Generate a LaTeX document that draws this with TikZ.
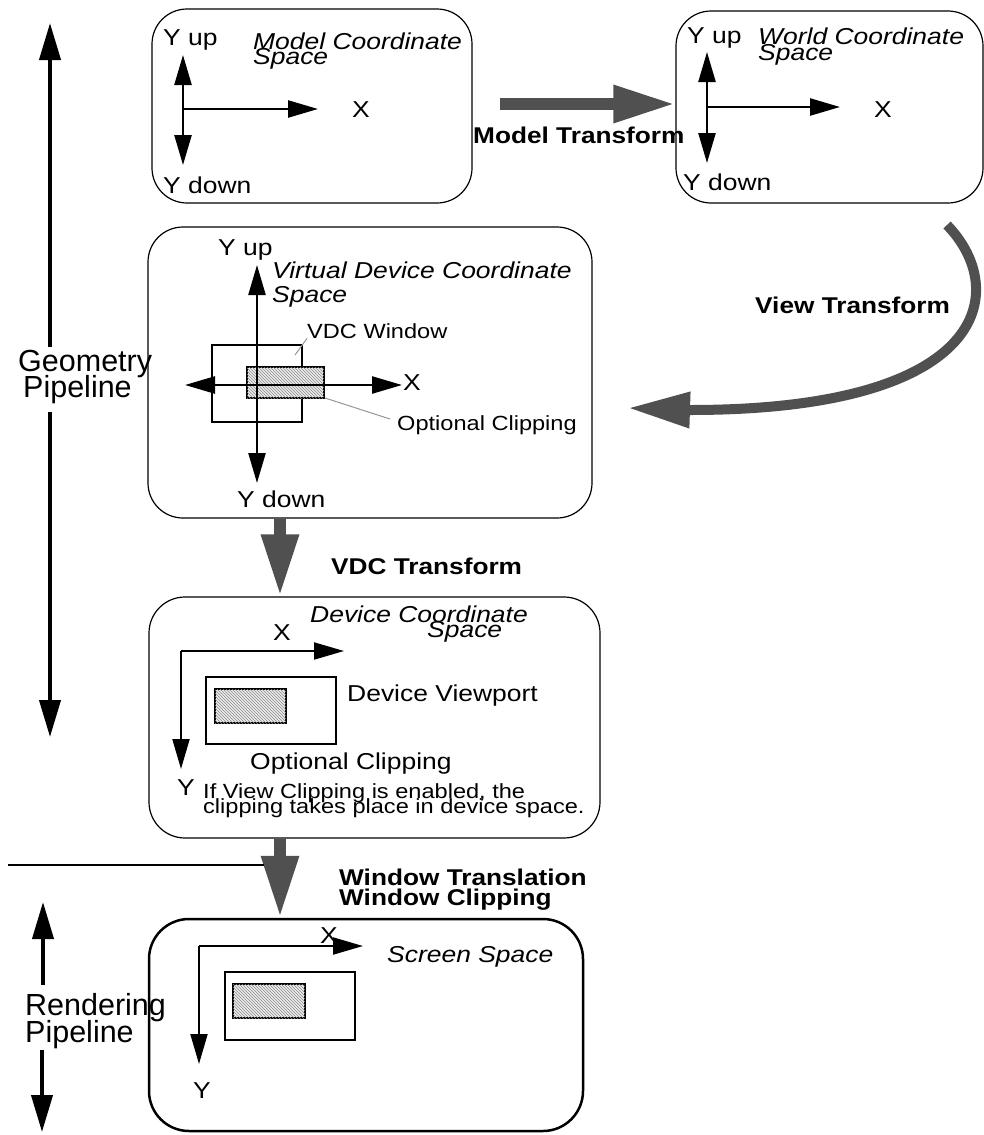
\documentclass[tikz,border=0pt]{standalone}
\usepackage{fontspec}
\setmainfont{Liberation Sans}
\newfontfamily\lblfont{Liberation Sans}[FakeStretch=1.15]
\usetikzlibrary{arrows.meta,patterns}
\definecolor{fatgray}{RGB}{80,80,80}
\definecolor{leadgray}{RGB}{150,150,150}

\begin{document}
\begin{tikzpicture}[x=1pt,y=-1pt,
  >={Triangle[length=30pt,width=17pt]},
  space/.style={draw, line width=1.2pt, rounded corners=35pt, inner sep=0},
  lbl/.style={font=\lblfont\fontsize{23}{24}\selectfont, inner sep=0, anchor=base west},
  small/.style={font=\lblfont\fontsize{20.5}{22}\selectfont, inner sep=0, anchor=base west},
  ital/.style={font=\lblfont\itshape\fontsize{23}{24}\selectfont, inner sep=0, anchor=base west},
  boldlbl/.style={font=\lblfont\bfseries\fontsize{22.8}{24}\selectfont, inner sep=0, anchor=base west},
  biglbl/.style={font=\fontsize{30.5}{32}\selectfont, inner sep=0, anchor=base west},
  thickaxis/.style={line width=2.4pt},
  thinaxis/.style={line width=2pt},
  frame/.style={draw, line width=2pt},
  hatch/.style={draw, line width=2pt, fill=black!8,
    postaction={pattern=north west lines, pattern color=black!45}},
  leader/.style={draw=leadgray, line width=1pt},
  fat/.style={draw=fatgray, line width=12pt, -{Triangle[length=62pt,width=35pt]}},
  pipearrow/.style={line width=4pt, -{Triangle[length=37pt,width=21pt]}}
]
\useasboundingbox (0,0) rectangle (984,1135);

% ---------- coordinate space boxes ----------
\node[space, minimum width=320pt, minimum height=194pt] (model) at (312,106) {};
\node[space, minimum width=307pt, minimum height=192pt] (world) at (829.5,107) {};
\node[space, minimum width=444pt, minimum height=291pt] (vdc) at (370,372.5) {};
\node[space, minimum width=451pt, minimum height=241pt, rounded corners=36pt] (device) at (374.5,717.5) {};
\node[space, line width=2.5pt, rounded corners=40pt, minimum width=434pt, minimum height=212pt] (screen) at (366,1025) {};

% ---------- model coordinate space ----------
\node[lbl] (m-yup) at (163,45) {Y up};
\node[ital] (m-title1) at (253,49) {Model Coordinate};
\node[ital] (m-title2) at (253,64) {Space};
\coordinate (m-o) at (183,109);
\draw[thickaxis, <->] (183,55) -- (183,165);
\draw[thickaxis, ->] (m-o) -- (318,109);
\node[lbl] (m-x) at (352,117) {X};
\node[lbl] (m-ydown) at (163,193) {Y down};

% ---------- world coordinate space ----------
\node[lbl] (w-yup) at (687,43) {Y up};
\node[ital] (w-title1) at (758,44) {World Coordinate};
\node[ital] (w-title2) at (758,60) {Space};
\coordinate (w-o) at (707,107);
\draw[thickaxis, <->] (707,52) -- (707,163);
\draw[thickaxis, ->] (w-o) -- (840,107);
\node[lbl] (w-x) at (874,117) {X};
\node[lbl] (w-ydown) at (683,190) {Y down};

% ---------- virtual device coordinate space ----------
\node[lbl] (v-yup) at (218,255) {Y up};
\node[ital] (v-title1) at (272,278) {Virtual Device Coordinate};
\node[ital] (v-title2) at (272,302) {Space};
\draw[frame] (212,345) rectangle (302,422);
\draw[hatch] (247,367) rectangle (324,398);
\draw[thickaxis, <->] (257,265) -- (257,483);
\draw[thickaxis, <->] (185,385) -- (402,385);
\node[lbl] (v-x) at (403,390) {X};
\node[lbl] (v-ydown) at (237,507) {Y down};
\node[small] (v-window) at (307,338) {VDC Window};
\draw[leader] (295,355) -- (v-window.south west);
\node[small] (v-clip) at (397,430) {Optional Clipping};
\draw[leader] (325,398) -- (390,419);

% ---------- device coordinate space ----------
\node[ital] (d-title1) at (310,622) {Device Coordinate};
\node[ital] (d-title2) at (427,637) {Space};
\node[lbl] (d-x) at (273,640) {X};
\coordinate (d-o) at (181,651);
\draw[thinaxis, ->] (d-o) -- (344,651);
\draw[thinaxis, ->] (d-o) -- (181,769);
\node[lbl] (d-y) at (177,795) {Y};
\draw[frame] (206,677) rectangle (336,744);
\draw[hatch] (215,689) rectangle (286,723);
\node[lbl] (d-viewport) at (347,701) {Device Viewport};
\node[lbl] (d-clip) at (250,769) {Optional Clipping};
\node[small] (d-note1) at (203,798) {If View Clipping is enabled, the};
\node[small] (d-note2) at (203,813) {clipping takes place in device space.};

% ---------- screen space ----------
\coordinate (s-o) at (199,946);
\draw[thinaxis, ->] (s-o) -- (363,946);
\draw[thinaxis, ->] (s-o) -- (199,1064);
\node[lbl] (s-x) at (320,943) {X};
\node[ital] (s-title) at (387,962) {Screen Space};
\node[lbl] (s-y) at (193,1098) {Y};
\draw[frame] (225,972) rectangle (355,1040);
\draw[hatch] (233,984) rectangle (305,1018);

% ---------- transforms between the spaces ----------
\coordinate (mt-start) at (500,104);
\draw[fat] (mt-start) -- (world.west |- mt-start);
\node[boldlbl] (mt-label) at (473,143) {Model Transform};

\coordinate (vt-start) at (947,225);
\coordinate (vt-bend) at (690,410);
\coordinate (vt-end) at (628,408);
\draw[draw=fatgray, line width=10pt, -{Triangle[length=62pt,width=34pt]}]
  (vt-start) .. controls (1010,290) and (990,410) .. (vt-bend) -- (vt-end);
\node[boldlbl] (vt-label) at (755,313) {View Transform};

\coordinate (pipe) at (280,0);
\draw[fat] (vdc.south -| pipe) -- (device.north -| pipe);
\node[boldlbl] (vdct-label) at (331,574) {VDC Transform};

\draw[fat] (device.south -| pipe) -- (screen.north -| pipe);
\node[boldlbl] (wt-label1) at (339,885) {Window Translation};
\node[boldlbl] (wt-label2) at (339,905) {Window Clipping};

% ---------- pipeline split ----------
\coordinate (split-l) at (8,865);
\coordinate (split-r) at (264,865);
\draw[line width=1.5pt] (split-l) -- (split-r);

\node[biglbl] (geo1) at (18,371) {Geometry};
\node[biglbl] (geo2) at (23,397) {Pipeline};
\coordinate (g-top) at (50,23);
\coordinate (g-bot) at (50,737);
\draw[pipearrow] (50,347) -- (g-top);
\draw[pipearrow] (50,412) -- (g-bot);

\node[biglbl] (ren1) at (25,1015) {Rendering};
\node[biglbl] (ren2) at (25,1042) {Pipeline};
\coordinate (r-top) at (43,902);
\coordinate (r-bot) at (42,1132);
\draw[pipearrow] (43,985) -- (r-top);
\draw[pipearrow] (42,1050) -- (r-bot);
\end{tikzpicture}
\end{document}
